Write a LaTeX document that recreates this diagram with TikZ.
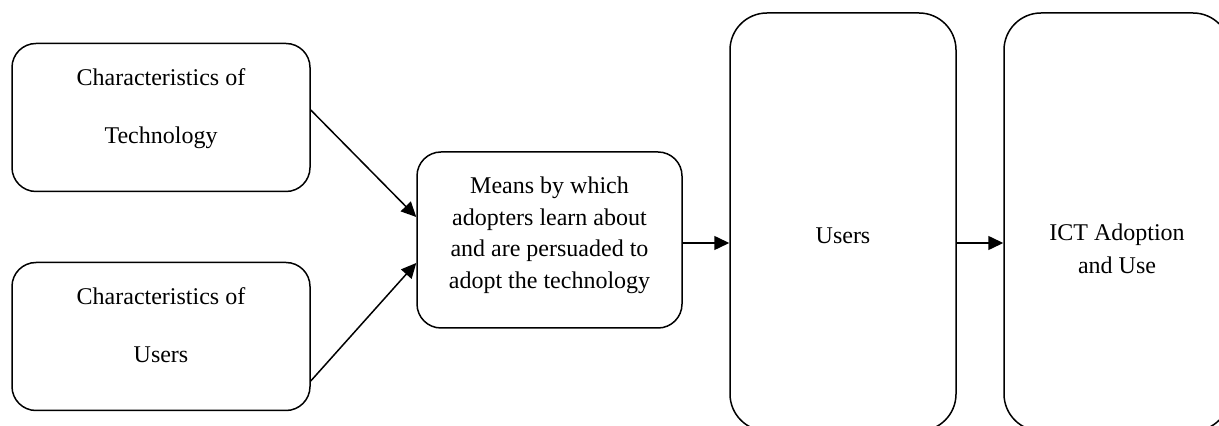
\documentclass[tikz,border=0pt]{standalone}
\usepackage{fontspec}
\setmainfont{Liberation Serif}
\usetikzlibrary{arrows.meta}
\tikzset{%
  >={Triangle[width=7pt,length=7.5pt]},
  % Specifications for style of nodes:
      base/.style = {rectangle, draw=black, line width=0.75pt,
                     align=center, font=\fontsize{12}{15.8}\selectfont},
   charbox/.style = {base, rounded corners=12pt, minimum width=149pt,
                     minimum height=74pt, font=\fontsize{12}{29.3}\selectfont},
  meansbox/.style = {base, rounded corners=12pt, minimum width=132.5pt,
                     minimum height=88pt, text height=51.5pt, text depth=3pt},
   tallbox/.style = {base, rounded corners=18.5pt, minimum width=113pt,
                     minimum height=209pt},
}
\begin{document}
\begin{tikzpicture}[x=0.5pt, y=-0.5pt, line width=0.75pt]
  \useasboundingbox (0,0) rectangle (1219,426);
  \clip (0,0) rectangle (1219,426);
  % Specification of nodes (position, etc.)
  \node (tech)     [charbox, text height=29.5pt, text depth=3pt] at (161,117.5) {Characteristics of\\Technology};
  \node (userchar) [charbox, text height=26.5pt, text depth=0pt] at (161,336.5) {Characteristics of\\Users};
  \node (means)    [meansbox] at (549.5,240) {Means by which\\adopters learn about\\and are persuaded to\\adopt the technology};
  \node (users)    [tallbox, text height=22pt, text depth=0pt] at (843,222) {Users};
  \node (ict)      [tallbox, text height=52pt, text depth=0pt,
                    font=\fontsize{12}{16.5}\selectfont] at (1117,222) {ICT Adoption\\and Use};
  % Specification of lines between nodes specified above
  \draw[->] ([yshift=3.75pt]tech.east) -- ([yshift=11.5pt]means.west);
  \draw[->] ([yshift=-22.25pt]userchar.east) -- ([yshift=-11.5pt]means.west);
  \draw[->] ([yshift=-1.5pt]means.east) -- ([yshift=-1.5pt]means.east -| users.west);
  \draw[->] ([yshift=-1.5pt]means.east -| users.east) -- ([yshift=-1.5pt]means.east -| ict.west);
\end{tikzpicture}
\end{document}
